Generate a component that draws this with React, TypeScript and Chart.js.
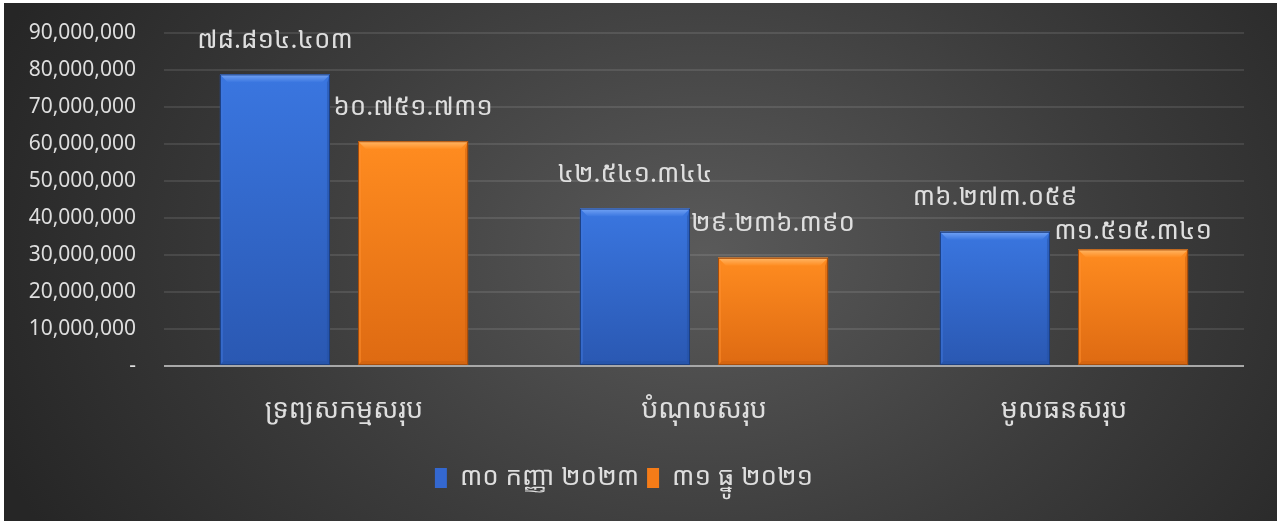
import React, { useEffect, useRef } from "react";
import { Chart, registerables } from "chart.js";

Chart.register(...registerables);

const categories = ["ទ្រព្យសកម្មសរុប", "បំណុលសរុប", "មូលធនសរុប"];
const seriesNames = ["៣០ កញ្ញា ២០២៣", "៣១ ធ្នូ ២០២១"];
const sep2023 = [78814403, 42541344, 36273059];
const dec2021 = [60751731, 29236390, 31515341];
const yMax = 90000000;
const yStep = 10000000;

const khDigits = "០១២៣៤៥៦៧៨៩";
function toKhmer(v: number): string {
  return Math.round(v)
    .toLocaleString("en-US")
    .replace(/,/g, ".")
    .replace(/[0-9]/g, (d) => khDigits[Number(d)]);
}

const khFont = '"Noto Sans Khmer", "Khmer OS", "Noto Sans", sans-serif';

const palettes = [
  { top: "#3a76e0", bottom: "#2a58b2", bevelTop: "#74a4f5", bevelSide: "#3f78dc", bevelRight: "#244f9f", bevelBottom: "#23509e", border: "#1d3f80" },
  { top: "#ff8c20", bottom: "#de6a12", bevelTop: "#ffb868", bevelSide: "#ff9030", bevelRight: "#c85e0e", bevelBottom: "#c45c0e", border: "#a84d0a" },
];

const bevelPlugin = {
  id: "bevelBars",
  afterDatasetsDraw(chart: any) {
    const ctx = chart.ctx;
    chart.data.datasets.forEach((ds: any, di: number) => {
      const meta = chart.getDatasetMeta(di);
      const p = palettes[di];
      meta.data.forEach((bar: any) => {
        const { x, y, base, width } = bar.getProps(["x", "y", "base", "width"], true);
        const l = x - width / 2;
        const r = x + width / 2;
        const t = y;
        const b = base;
        const bv = 8;
        ctx.save();
        const g = ctx.createLinearGradient(0, t, 0, b);
        g.addColorStop(0, p.top);
        g.addColorStop(1, p.bottom);
        ctx.fillStyle = g;
        ctx.fillRect(l, t, width, b - t);
        const gt = ctx.createLinearGradient(0, t, 0, t + bv);
        gt.addColorStop(0, p.bevelTop);
        gt.addColorStop(1, p.top);
        ctx.fillStyle = gt;
        ctx.beginPath();
        ctx.moveTo(l, t);
        ctx.lineTo(r, t);
        ctx.lineTo(r - bv, t + bv);
        ctx.lineTo(l + bv, t + bv);
        ctx.closePath();
        ctx.fill();
        ctx.globalAlpha = 0.5;
        ctx.fillStyle = p.bevelSide;
        ctx.beginPath();
        ctx.moveTo(l, t);
        ctx.lineTo(l + 3, t + bv);
        ctx.lineTo(l + 3, b - 3);
        ctx.lineTo(l, b);
        ctx.closePath();
        ctx.fill();
        ctx.fillStyle = p.bevelRight;
        ctx.beginPath();
        ctx.moveTo(r, t);
        ctx.lineTo(r - 3, t + bv);
        ctx.lineTo(r - 3, b - 3);
        ctx.lineTo(r, b);
        ctx.closePath();
        ctx.fill();
        ctx.globalAlpha = 0.35;
        ctx.fillStyle = p.bevelBottom;
        ctx.beginPath();
        ctx.moveTo(l, b);
        ctx.lineTo(l + 4, b - 4);
        ctx.lineTo(r - 4, b - 4);
        ctx.lineTo(r, b);
        ctx.closePath();
        ctx.fill();
        ctx.globalAlpha = 1;
        ctx.strokeStyle = p.border;
        ctx.lineWidth = 1;
        ctx.strokeRect(l + 0.5, t + 0.5, width - 1, b - t - 1);
        ctx.restore();
      });
    });
    const ys = chart.scales.y;
    const y0 = ys.getPixelForValue(0);
    ctx.save();
    ctx.strokeStyle = "#a8a8a8";
    ctx.lineWidth = 2;
    ctx.beginPath();
    ctx.moveTo(chart.chartArea.left, y0);
    ctx.lineTo(chart.chartArea.right, y0);
    ctx.stroke();
    ctx.restore();
  },
};

const labelPlugin = {
  id: "valueLabels",
  afterDraw(chart: any) {
    const ctx = chart.ctx;
    ctx.save();
    ctx.font = "26px " + khFont;
    ctx.fillStyle = "#dedede";
    ctx.textAlign = "center";
    ctx.textBaseline = "middle";
    chart.data.datasets.forEach((ds: any, di: number) => {
      const meta = chart.getDatasetMeta(di);
      meta.data.forEach((bar: any, i: number) => {
        const { x, y } = bar.getProps(["x", "y"], true);
        // the last orange label sits closer to its bar in the original
        const off = di === 1 && i === 2 ? 18 : 34;
        ctx.fillText(toKhmer(ds.data[i]), x, y - off);
      });
    });
    ctx.restore();
  },
};

export default function App() {
  const ref = useRef<HTMLCanvasElement | null>(null);
  useEffect(() => {
    document.body.style.margin = "0";
    document.body.style.background = "#ffffff";
    if (!ref.current) return;
    const chart = new Chart(ref.current, {
      type: "bar",
      data: {
        labels: categories,
        datasets: [
          { label: seriesNames[0], data: sep2023, backgroundColor: "#3468d0", borderColor: "#1d3f80", borderWidth: 0 },
          { label: seriesNames[1], data: dec2021, backgroundColor: "#f57c18", borderColor: "#a84d0a", borderWidth: 0 },
        ],
      },
      options: {
        animation: false,
        responsive: false,
        maintainAspectRatio: false,
        layout: { padding: { top: 30, right: 33, bottom: 20, left: 0 } },
        datasets: { bar: { barPercentage: 0.797, categoryPercentage: 0.767 } },
        plugins: {
          tooltip: { enabled: false },
          legend: {
            position: "bottom",
            labels: {
              color: "#dedede",
              font: { size: 26, family: khFont },
              boxWidth: 12,
              boxHeight: 20,
              padding: 8,
            },
          },
        },
        scales: {
          x: {
            grid: { display: false, drawTicks: false },
            border: { display: false },
            ticks: {
              color: "#dedede",
              padding: 28,
              font: { size: 27, family: khFont },
            },
            afterFit: (s: any) => {
              s.height = 91;
              s.paddingLeft = 0;
              s.paddingRight = 0;
            },
          },
          y: {
            min: 0,
            max: yMax,
            grid: { color: "rgba(255,255,255,0.1)", lineWidth: 2, drawTicks: false },
            border: { display: false },
            ticks: {
              stepSize: yStep,
              color: "#dedede",
              padding: 28,
              font: { size: 21, family: '"Noto Sans", sans-serif' },
              callback: (v: any) => (Number(v) === 0 ? "-" : Number(v).toLocaleString("en-US")),
            },
            afterFit: (s: any) => {
              s.width = 160;
              s.paddingTop = 0;
              s.paddingBottom = 0;
            },
          },
        },
      },
      plugins: [bevelPlugin, labelPlugin],
    });
    return () => chart.destroy();
  }, []);
  return (
    <div
      style={{
        margin: "3px 2px 1px 4px",
        width: 1273,
        height: 518,
        background: "radial-gradient(ellipse 760px 560px at 700px 250px, #5a5a5a 0%, #3c3c3c 55%, #262626 100%)",
      }}
    >
      <canvas ref={ref} width={1273} height={518} style={{ display: "block" }} />
    </div>
  );
}
